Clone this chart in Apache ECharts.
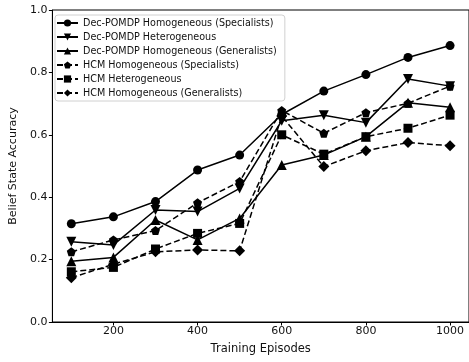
<!DOCTYPE html>
<html>
<head>
<meta charset="utf-8">
<script src="https://cdn.jsdelivr.net/npm/echarts@6/dist/echarts.min.js"></script>
<style>
  html, body { margin: 0; padding: 0; background: #fff; }
  #chart { width: 469px; height: 362px; }
</style>
</head>
<body>
<div id="chart"></div>
<script>
var episodes = [100, 200, 300, 400, 500, 600, 700, 800, 900, 1000];
var xTicks = [200, 400, 600, 800, 1000];

var decHomSpec = [0.315, 0.337, 0.386, 0.487, 0.535, 0.665, 0.740, 0.793, 0.848, 0.886];
var decHet     = [0.257, 0.247, 0.359, 0.354, 0.428, 0.645, 0.663, 0.639, 0.779, 0.756];
var decHomGen  = [0.195, 0.207, 0.327, 0.263, 0.332, 0.503, 0.535, 0.594, 0.703, 0.688];
var hcmHomSpec = [0.225, 0.263, 0.293, 0.382, 0.450, 0.678, 0.605, 0.671, 0.701, 0.756];
var hcmHet     = [0.161, 0.175, 0.234, 0.284, 0.316, 0.600, 0.538, 0.594, 0.621, 0.663];
var hcmHomGen  = [0.142, 0.185, 0.225, 0.231, 0.228, 0.660, 0.498, 0.549, 0.575, 0.565];

var downTri = 'path://M0,0 L10,0 L5,9 Z';
var pentagon = 'path://M5,0 L10,3.8 L8.1,10 L1.9,10 L0,3.8 Z';

function pairs(vals) {
  return vals.map(function (v, i) { return [episodes[i], v]; });
}

function mkSeries(name, vals, symbol, size, dashed) {
  return {
    name: name,
    type: 'line',
    data: pairs(vals),
    symbol: symbol,
    symbolSize: size,
    showAllSymbol: true,
    animation: false,
    lineStyle: { color: '#000', width: 1.5, type: dashed ? [6, 3] : 'solid' },
    itemStyle: { color: '#000', borderWidth: 0 },
    emphasis: { disabled: true }
  };
}

var chart = echarts.init(document.getElementById('chart'));
chart.setOption({
  animation: false,
  textStyle: { fontFamily: 'DejaVu Sans' },
  grid: {
    left: 51.5, top: 10, width: 420, height: 312,
    show: true, borderColor: '#000', borderWidth: 1, backgroundColor: 'transparent'
  },
  legend: {
    orient: 'vertical',
    left: 55, top: 15,
    padding: [3, 8, 3, 1],
    itemGap: 4,
    itemWidth: 21, itemHeight: 9,
    backgroundColor: '#fff',
    borderColor: '#d0d0d0', borderWidth: 1, borderRadius: 3,
    textStyle: { fontSize: 9.6, color: '#111', fontFamily: 'DejaVu Sans' },
    data: [
      'Dec-POMDP Homogeneous (Specialists)',
      'Dec-POMDP Heterogeneous',
      'Dec-POMDP Homogeneous (Generalists)',
      'HCM Homogeneous (Specialists)',
      'HCM Heterogeneous',
      'HCM Homogeneous (Generalists)'
    ]
  },
  xAxis: {
    type: 'value',
    min: 55, max: 1045,
    name: 'Training Episodes',
    nameLocation: 'middle',
    nameGap: 21,
    nameTextStyle: { fontSize: 11.5, color: '#111' },
    axisLine: { show: true, lineStyle: { color: '#000', width: 1 } },
    axisTick: { show: true, length: 3.5, customValues: xTicks, lineStyle: { color: '#000' } },
    axisLabel: {
      customValues: xTicks, fontSize: 11, color: '#111', margin: 4,
      formatter: function (v) { return String(v); }
    },
    splitLine: { show: false }
  },
  yAxis: {
    type: 'value',
    min: 0, max: 1, interval: 0.2,
    name: 'Belief State Accuracy',
    nameLocation: 'middle',
    nameGap: 32,
    nameTextStyle: { fontSize: 11, color: '#111' },
    axisLine: { show: true, lineStyle: { color: '#000', width: 1 } },
    axisTick: { show: true, length: 3.5, lineStyle: { color: '#000' } },
    axisLabel: {
      fontSize: 11, color: '#111', margin: 5,
      formatter: function (v) { return v.toFixed(1); }
    },
    splitLine: { show: false }
  },
  series: [
    mkSeries('Dec-POMDP Homogeneous (Specialists)', decHomSpec, 'circle', 9, false),
    mkSeries('Dec-POMDP Heterogeneous', decHet, downTri, 10, false),
    mkSeries('Dec-POMDP Homogeneous (Generalists)', decHomGen, 'triangle', 10, false),
    mkSeries('HCM Homogeneous (Specialists)', hcmHomSpec, pentagon, 9, true),
    mkSeries('HCM Heterogeneous', hcmHet, 'rect', 9, true),
    mkSeries('HCM Homogeneous (Generalists)', hcmHomGen, 'diamond', 11, true)
  ]
});
</script>
</body>
</html>
